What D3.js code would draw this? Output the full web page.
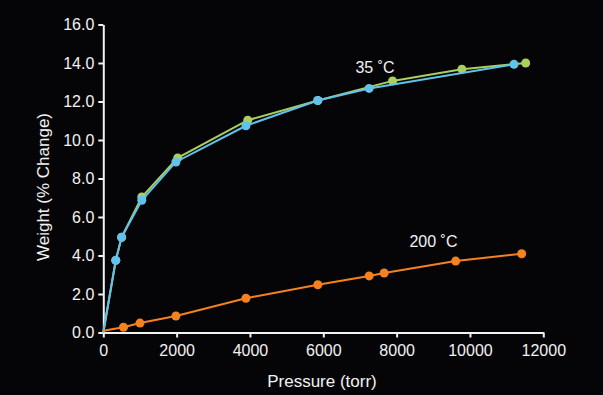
<!DOCTYPE html>
<html><head><meta charset="utf-8">
<script src="https://cdn.jsdelivr.net/npm/d3@7"></script>
<style>
html,body{margin:0;padding:0;background:#050508;}
svg{display:block;}
text{font-family:"Liberation Sans",Arial,sans-serif;fill:#f2f2f2;}
</style></head>
<body>
<script>
// Data
const pressure35A = [0, 340, 500, 1050, 1980, 3890, 5850, 7250, 11200];
const weight35A   = [0, 3.75, 4.95, 6.87, 8.86, 10.74, 12.05, 12.68, 13.93];
const pressure35B = [0, 340, 500, 1050, 2030, 3940, 5850, 7890, 9780, 11520];
const weight35B   = [0, 3.75, 4.95, 7.04, 9.07, 11.03, 12.05, 13.07, 13.68, 14.0];
const pressure200 = [0, 550, 1000, 1980, 3890, 5850, 7250, 7660, 9610, 11410];
const weight200   = [0.09, 0.27, 0.49, 0.86, 1.78, 2.48, 2.94, 3.09, 3.71, 4.09];
const xTicks = [0, 2000, 4000, 6000, 8000, 10000, 12000];
const yTicks = [0, 2, 4, 6, 8, 10, 12, 14, 16];
const labels = [{text:"35 ˚C", px:7410, w:13.48}, {text:"200 ˚C", px:9005, w:4.46}];

const W = 603, H = 395;
const svg = d3.select("body").append("svg").attr("width", W).attr("height", H);
svg.append("rect").attr("width", W).attr("height", H).attr("fill", "#050508");

const x = d3.scaleLinear().domain([0, 12000]).range([103.3, 543.3]);
const y = d3.scaleLinear().domain([0, 16]).range([332.5, 24.5]);

const xAxis = svg.append("g").attr("transform", `translate(0,${y(0)})`)
  .call(d3.axisBottom(x).tickValues(xTicks).tickFormat(d3.format("d")).tickSize(5).tickSizeOuter(0));
const yAxis = svg.append("g").attr("transform", `translate(${x(0)},0)`)
  .call(d3.axisLeft(y).tickValues(yTicks).tickFormat(d3.format(".1f")).tickSize(5).tickSizeOuter(0));
[xAxis, yAxis].forEach(g => {
  g.select(".domain").attr("stroke", "#f2f2f2").attr("stroke-width", 2);
  g.selectAll(".tick line").attr("stroke", "#f2f2f2").attr("stroke-width", 2);
  g.selectAll(".tick text").attr("fill", "#f2f2f2").style("font-size", "16px")
    .style("font-family", "'Liberation Sans', Arial, sans-serif");
});
xAxis.selectAll(".tick text").attr("dy", "0.95em").attr("y", 8);
yAxis.selectAll(".tick text").attr("x", -9);

svg.append("text").attr("x", 322).attr("y", 387).attr("text-anchor", "middle")
  .style("font-size", "17px").text("Pressure (torr)");
svg.append("text").attr("transform", `translate(49,187) rotate(-90)`).attr("text-anchor", "middle")
  .style("font-size", "17px").text("Weight (% Change)");

function series(px, wy, color) {
  const pts = px.map((p, i) => [p, wy[i]]);
  const line = d3.line().x(d => x(d[0])).y(d => y(d[1]));
  svg.append("path").datum(pts).attr("d", line).attr("fill", "none")
    .attr("stroke", color).attr("stroke-width", 2);
  svg.append("g").selectAll("circle").data(pts.filter(d => d[0] > 0)).join("circle")
    .attr("cx", d => x(d[0])).attr("cy", d => y(d[1])).attr("r", 4.5).attr("fill", color);
}
series(pressure35B, weight35B, "#a9d05c");
series(pressure35A, weight35A, "#62c2ee");
series(pressure200, weight200, "#f5821f");

labels.forEach(l => {
  svg.append("text").attr("x", x(l.px)).attr("y", y(l.w)).attr("text-anchor", "middle")
    .style("font-size", "16px").text(l.text);
});
</script>
</body></html>
